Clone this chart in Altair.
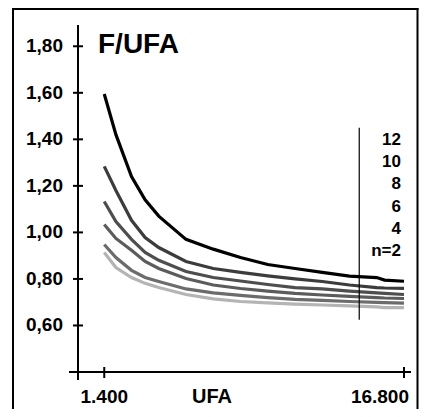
import altair as alt
import pandas as pd

# ---- data ----
ufa = [1400, 2000, 2800, 3500, 4200, 5600, 7000, 8400, 9800, 11200, 12600, 14000, 15400, 15800, 16800]
f_n12 = [1.595, 1.42, 1.24, 1.14, 1.07, 0.97, 0.928, 0.892, 0.862, 0.845, 0.828, 0.812, 0.806, 0.795, 0.79]
f_n10 = [1.284, 1.18, 1.052, 0.978, 0.935, 0.875, 0.845, 0.828, 0.813, 0.80, 0.789, 0.774, 0.763, 0.761, 0.759]
f_n8 = [1.133, 1.047, 0.97, 0.914, 0.88, 0.832, 0.806, 0.791, 0.776, 0.763, 0.757, 0.748, 0.74, 0.738, 0.733]
f_n6 = [1.034, 0.974, 0.923, 0.875, 0.845, 0.802, 0.774, 0.759, 0.748, 0.738, 0.731, 0.725, 0.72, 0.718, 0.716]
f_n4 = [0.948, 0.892, 0.837, 0.806, 0.789, 0.757, 0.74, 0.729, 0.72, 0.712, 0.708, 0.703, 0.699, 0.698, 0.696]
f_n2 = [0.914, 0.849, 0.806, 0.781, 0.763, 0.733, 0.714, 0.703, 0.697, 0.692, 0.688, 0.684, 0.68, 0.677, 0.677]

series_names = ["12", "10", "8", "6", "4", "n=2"]
series_values = [f_n12, f_n10, f_n8, f_n6, f_n4, f_n2]
series_colors = ["#000000", "#3c3c3c", "#4e4e4e", "#5c5c5c", "#6c6c6c", "#b4b4b4"]

y_ticks = [0.6, 0.8, 1.0, 1.2, 1.4, 1.6, 1.8]
y_tick_labels = ["0,60", "0,80", "1,00", "1,20", "1,40", "1,60", "1,80"]
x_ticks = [1400, 16800]
x_tick_labels = ["1.400", "16.800"]
marker_ufa = [14500]
marker_f = [0.625, 1.45]

title_text = "F/UFA"
x_title = "UFA"

FONT = "Liberation Sans"

rows = []
for name, vals in zip(series_names, series_values):
    for u, v in zip(ufa, vals):
        rows.append({"ufa": u, "f": v, "n": name})
df = pd.DataFrame(rows)

xs = alt.Scale(domain=[0, 16800], nice=False, zero=False)
ys = alt.Scale(domain=[0.4, 1.9], nice=False, zero=False)

one = pd.DataFrame({"a": [0]})

lines = alt.Chart(df).mark_line(strokeWidth=3.2).encode(
    x=alt.X("ufa:Q", scale=xs, axis=None),
    y=alt.Y("f:Q", scale=ys, axis=None),
    color=alt.Color("n:N", scale=alt.Scale(domain=series_names, range=series_colors), legend=None),
    order=alt.Order("ufa:Q"),
)

# axis lines
y_axis_line = alt.Chart(one).mark_rule(color="black", strokeWidth=2).encode(
    x=alt.value(1), y=alt.value(2), y2=alt.value(357)
)
x_axis_line = alt.Chart(one).mark_rule(color="black", strokeWidth=2).encode(
    x=alt.value(-8), x2=alt.value(334), y=alt.value(349)
)

ydf = pd.DataFrame({"v": y_ticks, "lab": y_tick_labels})
y_tick_marks = alt.Chart(ydf).mark_rule(color="black", strokeWidth=2).encode(
    y=alt.Y("v:Q", scale=ys, axis=None), x=alt.value(-4), x2=alt.value(6)
)
y_labels = alt.Chart(ydf).mark_text(
    align="right", baseline="middle", font=FONT, fontSize=19, fontWeight="bold", color="black"
).encode(y=alt.Y("v:Q", scale=ys, axis=None), x=alt.value(-14), text="lab:N")

xdf = pd.DataFrame({"v": x_ticks, "lab": x_tick_labels})
x_tick_marks = alt.Chart(xdf).mark_rule(color="black", strokeWidth=2).encode(
    x=alt.X("v:Q", scale=xs, axis=None), y=alt.value(344), y2=alt.value(355)
)
x_label_first = alt.Chart(xdf.iloc[[0]]).mark_text(
    align="center", baseline="middle", font=FONT, fontSize=19, fontWeight="bold", color="black"
).encode(x=alt.X("v:Q", scale=xs, axis=None), y=alt.value(374), text="lab:N")
x_label_last = alt.Chart(xdf.iloc[[1]]).mark_text(
    align="right", baseline="middle", font=FONT, fontSize=19, fontWeight="bold", color="black", dx=5
).encode(x=alt.X("v:Q", scale=xs, axis=None), y=alt.value(374), text="lab:N")

x_title_mark = alt.Chart(pd.DataFrame({"t": [x_title]})).mark_text(
    align="center", baseline="middle", font=FONT, fontSize=20, fontWeight="bold", color="black"
).encode(x=alt.value(135), y=alt.value(374), text="t:N")

title_mark = alt.Chart(pd.DataFrame({"t": [title_text]})).mark_text(
    align="left", baseline="alphabetic", font=FONT, fontSize=28, fontWeight="bold", color="black"
).encode(x=alt.value(21), y=alt.value(30), text="t:N")

marker = alt.Chart(pd.DataFrame({"u": marker_ufa, "y1": [marker_f[0]], "y2": [marker_f[1]]})).mark_rule(
    color="black", strokeWidth=1.2
).encode(
    x=alt.X("u:Q", scale=xs, axis=None),
    y=alt.Y("y1:Q", scale=ys, axis=None),
    y2="y2:Q",
)

lab_df = pd.DataFrame({"label": series_names, "idx": list(range(len(series_names)))})
series_labels = alt.Chart(lab_df).transform_calculate(
    ypx="117 + 22.2 * datum.idx"
).mark_text(
    align="right", baseline="middle", font=FONT, fontSize=17, fontWeight="bold", color="black"
).encode(x=alt.value(324), y=alt.Y("ypx:Q", scale=None, axis=None), text="label:N")

# frame drawn as three rules (bottom edge lies below the visible page)
frame_left = alt.Chart(one).mark_rule(color="black", strokeWidth=2).encode(
    x=alt.value(-64), y=alt.value(-15), y2=alt.value(400)
)
frame_right = alt.Chart(one).mark_rule(color="black", strokeWidth=2).encode(
    x=alt.value(340.5), y=alt.value(-15), y2=alt.value(400)
)
frame_top = alt.Chart(one).mark_rule(color="black", strokeWidth=2).encode(
    y=alt.value(-14), x=alt.value(-65), x2=alt.value(341.5)
)

chart = alt.layer(
    frame_left, frame_right, frame_top, lines, marker, y_axis_line, x_axis_line, y_tick_marks, y_labels,
    x_tick_marks, x_label_first, x_label_last, x_title_mark, title_mark, series_labels
).properties(
    width=327, height=349,
    autosize=alt.AutoSizeParams(type="none"),
    padding={"left": 69, "top": 15, "right": 16, "bottom": 37},
).configure_view(stroke=None)

chart.save("out.html", embed_options={"renderer": "svg", "actions": False})
